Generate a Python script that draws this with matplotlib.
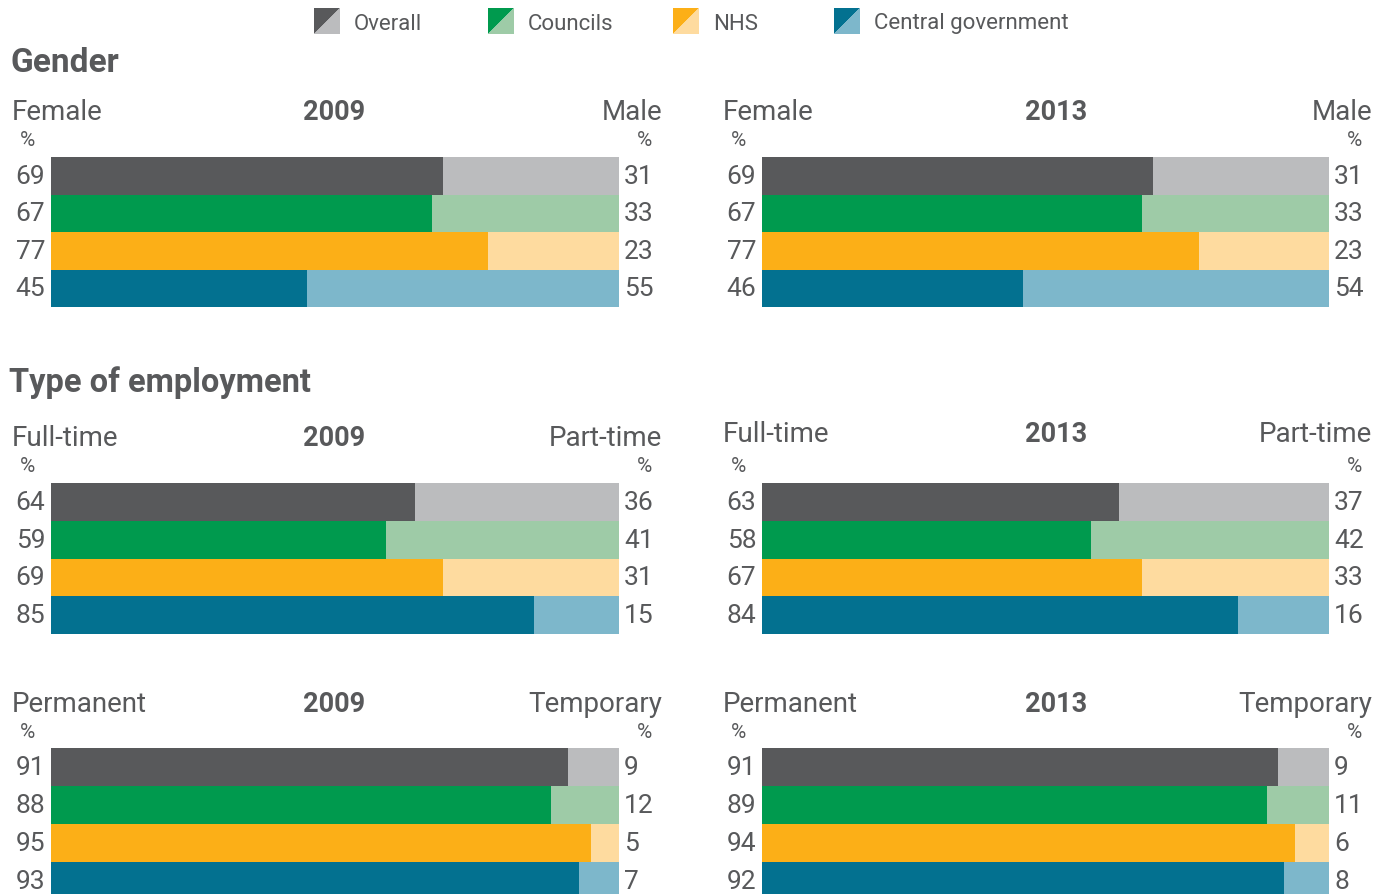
import matplotlib
matplotlib.use("Agg")
import matplotlib.pyplot as plt
from matplotlib.patches import Polygon
from matplotlib import font_manager

# data
series = ["Overall", "Councils", "NHS", "Central government"]
dark_colors = ["#58595b", "#009a4e", "#fcaf17", "#037190"]
light_colors = ["#bbbcbe", "#9ecba7", "#fedb9f", "#7db7cb"]

female_2009 = [69, 67, 77, 45]
male_2009 = [31, 33, 23, 55]
female_2013 = [69, 67, 77, 46]
male_2013 = [31, 33, 23, 54]

fulltime_2009 = [64, 59, 69, 85]
parttime_2009 = [36, 41, 31, 15]
fulltime_2013 = [63, 58, 67, 84]
parttime_2013 = [37, 42, 33, 16]

permanent_2009 = [91, 88, 95, 93]
temporary_2009 = [9, 12, 5, 7]
permanent_2013 = [91, 89, 94, 92]
temporary_2013 = [9, 11, 6, 8]

txt = "#58595b"
names = {f.name for f in font_manager.fontManager.ttflist}
fam = "DejaVu Sans"
for cand in ["Roboto", "Liberation Sans"]:
    if cand in names:
        fam = cand
        break
plt.rcParams["font.family"] = [fam, "DejaVu Sans"]

W, H = 1389, 895
fig = plt.figure(figsize=(W / 100, H / 100), dpi=100)


def fx(x):
    return x / W


def fy(y):
    return 1 - y / H


def panel(x0, x1, y0, y1, left_vals, right_vals, left_lab, right_lab, year, head_y, year_x):
    ax = fig.add_axes([fx(x0), fy(y1), fx(x1 - x0), (y1 - y0) / H])
    ys = range(len(left_vals))
    ax.barh(ys, left_vals, height=1.0, color=dark_colors, linewidth=0)
    ax.barh(ys, right_vals, left=left_vals, height=1.0, color=light_colors, linewidth=0)
    ax.set_xlim(0, 100)
    ax.set_ylim(3.5, -0.5)
    ax.axis("off")
    for i in ys:
        ax.text(-1.0, i, str(left_vals[i]), ha="right", va="center", fontsize=19,
                color=txt, clip_on=False)
        ax.text(1.009, i, str(right_vals[i]), ha="left", va="center", fontsize=19,
                color=txt, clip_on=False, transform=ax.get_yaxis_transform())
    fig.text(fx(x0 - 39), fy(head_y), left_lab, ha="left", va="center", fontsize=20, color=txt)
    fig.text(fx(year_x), fy(head_y), year, ha="center", va="center", fontsize=19.5,
             color=txt, fontweight="bold")
    fig.text(fx(x1 + 43), fy(head_y), right_lab, ha="right", va="center", fontsize=20, color=txt)
    fig.text(fx(x0 - 23), fy(y0 - 17), "%", ha="center", va="center", fontsize=15, color=txt)
    fig.text(fx(x1 + 25), fy(y0 - 17), "%", ha="center", va="center", fontsize=15, color=txt)
    return ax


LX0, LX1 = 51, 619
RX0, RX1 = 762, 1329

panel(LX0, LX1, 158, 308, female_2009, male_2009, "Female", "Male", "2009", 112, 334)
panel(RX0, RX1, 158, 308, female_2013, male_2013, "Female", "Male", "2013", 112, 1056)
panel(LX0, LX1, 484, 635, fulltime_2009, parttime_2009, "Full-time", "Part-time", "2009", 439, 334)
panel(RX0, RX1, 484, 635, fulltime_2013, parttime_2013, "Full-time", "Part-time", "2013", 435, 1056)
panel(LX0, LX1, 749, 901, permanent_2009, temporary_2009, "Permanent", "Temporary", "2009", 705, 334)
panel(RX0, RX1, 749, 901, permanent_2013, temporary_2013, "Permanent", "Temporary", "2013", 705, 1056)

# section titles
fig.text(fx(11), fy(63), "Gender", ha="left", va="center", fontsize=24, fontweight="bold", color=txt)
fig.text(fx(9), fy(383), "Type of employment", ha="left", va="center", fontsize=23.5,
         fontweight="bold", color=txt)

# legend with split squares
icon_x = [314, 488, 673, 834]
for name, dc, lc, ix in zip(series, dark_colors, light_colors, icon_x):
    x0, x1, y0, y1 = fx(ix), fx(ix + 26), fy(9), fy(35)
    fig.patches.append(Polygon([(x0, y0), (x1, y0), (x0, y1)], closed=True, facecolor=dc,
                               edgecolor="none", transform=fig.transFigure))
    fig.patches.append(Polygon([(x1, y0), (x1, y1), (x0, y1)], closed=True, facecolor=lc,
                               edgecolor="none", transform=fig.transFigure))
    fig.text(fx(ix + 40), fy(24), name, ha="left", va="center", fontsize=16, color=txt)

fig.savefig("out.png", dpi=100)
